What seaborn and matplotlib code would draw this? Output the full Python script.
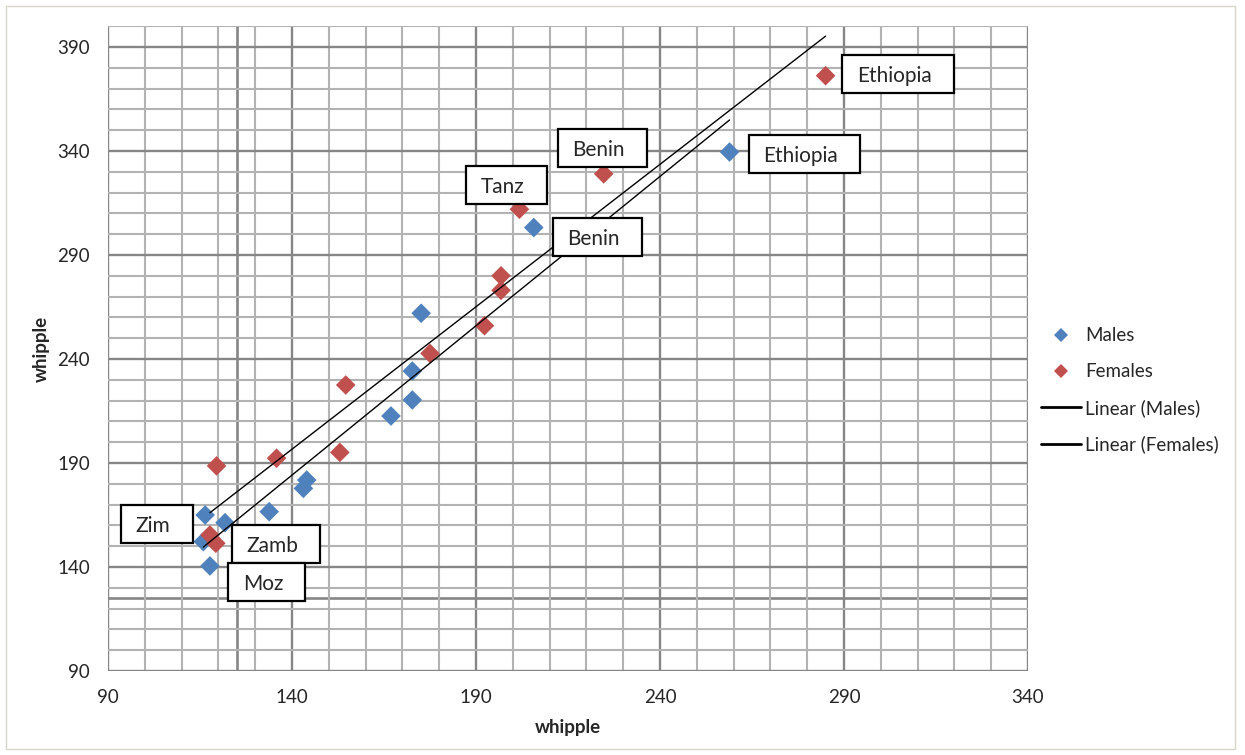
import numpy as np
import pandas as pd
import matplotlib
matplotlib.use("Agg")
import matplotlib.pyplot as plt
from matplotlib.path import Path
from matplotlib.lines import Line2D
from matplotlib.patches import Rectangle
import seaborn as sns

# ---------------- data ----------------
male_x = [116.4, 121.8, 115.9, 117.7, 133.8, 144.0, 143.1, 166.9, 172.7, 172.7, 175.1, 205.7, 258.9]
male_y = [165.0, 161.3, 152.2, 140.5, 166.6, 181.8, 177.8, 212.6, 220.3, 234.2, 262.0, 303.2, 339.5]
female_x = [119.5, 117.7, 119.3, 135.8, 153.0, 154.6, 177.5, 192.3, 196.8, 196.8, 201.8, 224.7, 285.0]
female_y = [188.6, 155.4, 151.4, 192.3, 195.1, 227.5, 242.7, 256.0, 273.0, 280.0, 312.0, 329.0, 376.2]

label_texts = ["Zim", "Zamb", "Moz", "Tanz", "Benin", "Benin", "Ethiopia", "Ethiopia"]
label_x = [102.3, 134.6, 132.1, 197.3, 223.3, 221.9, 303.7, 278.3]
label_y = [159.7, 150.1, 131.8, 322.7, 340.5, 297.7, 376.1, 337.6]

x_ticks = [90, 140, 190, 240, 290, 340]
y_ticks = [90, 140, 190, 240, 290, 340, 390]
legend_labels = ["Males", "Females", "Linear (Males)", "Linear (Females)"]

BLUE = "#4F81BD"
RED = "#C0504D"
MINOR = "#B3B3B3"
MAJOR = "#868686"

df = pd.concat([
    pd.DataFrame({"x": male_x, "y": male_y, "sex": "Males"}),
    pd.DataFrame({"x": female_x, "y": female_y, "sex": "Females"}),
], ignore_index=True)

sns.set_theme(style="white")
plt.rcParams["font.family"] = ["Lato", "DejaVu Sans"]

fig = plt.figure(figsize=(12.45, 7.55), dpi=100)
ax = fig.add_axes([108 / 1245, 1 - 671 / 755, 920 / 1245, (671 - 26.2) / 755])

# grid
ax.set_xlim(90, 340)
ax.set_ylim(90, 400)
ax.set_xticks(x_ticks)
ax.set_yticks(y_ticks)
ax.set_xticks(np.arange(90, 341, 10), minor=True)
ax.set_yticks(np.arange(90, 401, 10), minor=True)
ax.grid(which="minor", color=MINOR, linewidth=1.5, zorder=0)
ax.grid(which="major", color=MAJOR, linewidth=1.7, zorder=0)
ax.set_axisbelow(True)
for s in ax.spines.values():
    s.set_visible(False)
ax.tick_params(which="both", length=0)
ax.tick_params(axis="x", pad=13, labelsize=13.5)
ax.tick_params(axis="y", pad=13, labelsize=13.5)
ax.axvline(125, color=MAJOR, linewidth=1.9, zorder=0.5)
ax.axhline(125, color=MAJOR, linewidth=1.9, zorder=0.5)

# points
pal = {"Males": BLUE, "Females": RED}
sns.scatterplot(data=df, x="x", y="y", hue="sex", palette=pal, marker="D",
                s=100, linewidth=0, ax=ax, legend=False, zorder=3)

# trend lines
for sex in ["Males", "Females"]:
    sub = df[df["sex"] == sex]
    sns.regplot(data=sub, x="x", y="y", scatter=False, ci=None, truncate=True,
                line_kws={"color": "black", "linewidth": 1.0, "zorder": 4}, ax=ax)

ax.set_xlim(90, 340)
ax.set_ylim(90, 400)
ax.set_xlabel("whipple", fontsize=13.5, fontweight="bold", labelpad=9)
ax.set_ylabel("whipple", fontsize=13.5, fontweight="bold", labelpad=5)


# asymmetric box for labels
def excel_box(x0, y0, width, height, mutation_size):
    l, r, b, t = 0.7 * mutation_size, 1.05 * mutation_size, 0.34 * mutation_size, 0.54 * mutation_size
    xa, xb, ya, yb = x0 - l, x0 + width + r, y0 - b, y0 + height + t
    return Path([(xa, ya), (xb, ya), (xb, yb), (xa, yb), (xa, ya)],
                [Path.MOVETO, Path.LINETO, Path.LINETO, Path.LINETO, Path.CLOSEPOLY])


for t, lx, ly in zip(label_texts, label_x, label_y):
    ax.text(lx, ly, t, fontsize=15, ha="center", va="center", zorder=6,
            bbox=dict(boxstyle=excel_box, facecolor="white", edgecolor="black", linewidth=1.6))

# legend
handles = [
    Line2D([], [], marker="D", linestyle="none", color=BLUE, markersize=7.5, markeredgewidth=0),
    Line2D([], [], marker="D", linestyle="none", color=RED, markersize=7.5, markeredgewidth=0),
    Line2D([], [], color="black", linewidth=2.0),
    Line2D([], [], color="black", linewidth=2.0),
]
fig.legend(handles, legend_labels, loc="center left", bbox_to_anchor=(1041 / 1245, 1 - 390.5 / 755),
           frameon=False, fontsize=13.5, handlelength=2.15, handletextpad=0.2,
           labelspacing=1.0, borderpad=0, borderaxespad=0)

# outer chart border
fig.patches.append(Rectangle((6 / 1245, 6 / 755), 1229 / 1245, 743 / 755, transform=fig.transFigure,
                             fill=False, edgecolor="#D9D5C9", linewidth=1.0))

fig.savefig("out.png", dpi=100)
